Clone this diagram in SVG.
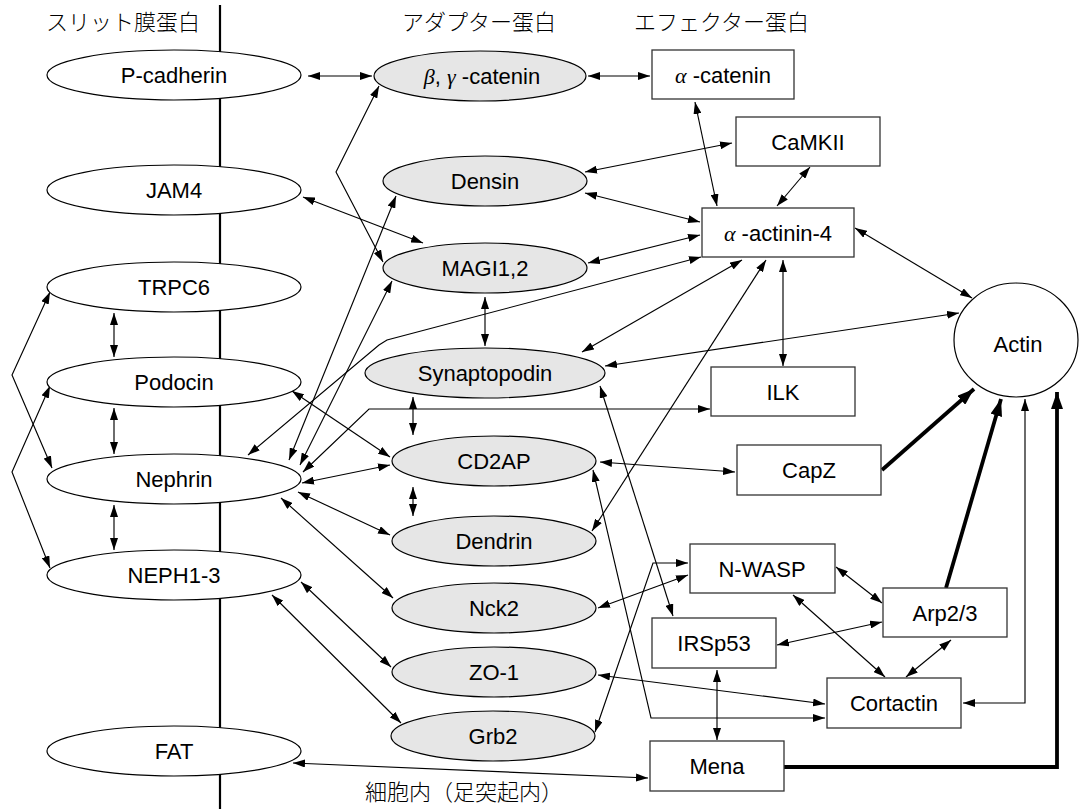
<svg xmlns="http://www.w3.org/2000/svg" width="1079" height="809" viewBox="0 0 1079 809">
<style>
text{font-family:"Liberation Sans",Arial,sans-serif;font-size:22px;fill:#000;text-anchor:middle}
.jp{font-family:"Noto Sans CJK JP","Noto Sans CJK SC",sans-serif;font-size:22px;font-weight:300;text-anchor:start}
.g{font-family:"Liberation Serif","DejaVu Serif",serif;font-style:italic}
.we{fill:#fff;stroke:#000;stroke-width:1.2}
.ge{fill:#e6e6e6;stroke:#000;stroke-width:1.2}
.bx{fill:#fff;stroke:#333;stroke-width:1.3}
.c{fill:none;stroke:#000;stroke-width:1.15;marker-start:url(#ah);marker-end:url(#ah)}
.t{fill:none;stroke:#000;stroke-width:3.8;marker-end:url(#ahb)}
</style>
<defs>
<marker id="ah" viewBox="0 0 12 8" refX="12" refY="4" markerWidth="12" markerHeight="8" markerUnits="userSpaceOnUse" orient="auto-start-reverse"><path d="M0,0 L12,4 L0,8 z" fill="#000"/></marker>
<marker id="ahb" viewBox="0 0 17 12" refX="17" refY="6" markerWidth="17" markerHeight="12" markerUnits="userSpaceOnUse" orient="auto"><path d="M0,0 L17,6 L0,12 z" fill="#000"/></marker>
</defs>
<rect width="1079" height="809" fill="#fff"/>
<line x1="220" y1="5" x2="220" y2="809" stroke="#000" stroke-width="2.2"/>
<g id="headers">
<text class="jp" x="46" y="30">スリット膜蛋白</text>
<text class="jp" x="402" y="30">アダプター蛋白</text>
<text class="jp" x="634" y="30">エフェクター蛋白</text>
<text class="jp" x="365" y="800">細胞内（足突起内）</text>
</g>
<g id="connectors">
<path class="c" d="M308,76 L372,76"/>
<path class="c" d="M588,76 L650,76"/>
<path class="c" d="M379,86 L336,172 L383,262"/>
<path class="c" d="M303,197 L423,243"/>
<path class="c" d="M695,102 L717,206"/>
<path class="c" d="M585,172 L732,143"/>
<path class="c" d="M810,167 L777,206"/>
<path class="c" d="M585,193 L700,222"/>
<path class="c" d="M588,263 L700,235"/>
<path class="c" d="M248,455 L379,345 L387,340 L701,257"/>
<path class="c" d="M742,260 L582,352"/>
<path class="c" d="M766,260 L592,531"/>
<path class="c" d="M783,260 L783,366"/>
<path class="c" d="M855,228 L972,298"/>
<path class="c" d="M605,366 L959,313"/>
<path class="c" d="M396,196 L289,460"/>
<path class="c" d="M392,281 L300,465"/>
<path class="c" d="M485,297 L485,346"/>
<path class="c" d="M413,397 L413,435"/>
<path class="c" d="M413,487 L413,516"/>
<path class="c" d="M303,472 L369,409 L710,409"/>
<path class="c" d="M292,391 L390,457"/>
<path class="c" d="M302,483 L390,465"/>
<path class="c" d="M298,492 L390,535"/>
<path class="c" d="M281,498 L393,598"/>
<path class="c" d="M301,582 L391,667"/>
<path class="c" d="M272,595 L401,723"/>
<path class="c" d="M293,763 L648,778"/>
<path class="c" d="M114,313 L114,357"/>
<path class="c" d="M114,408 L114,454"/>
<path class="c" d="M114,505 L114,550"/>
<path class="c" d="M50,292 L12,375 L52,468"/>
<path class="c" d="M50,386 L12,472 L50,568"/>
<path class="c" d="M600,462 L735,472"/>
<path class="c" d="M600,386 L673,616"/>
<path class="c" d="M593,470 L651,718 L825,718"/>
<path class="c" d="M595,732 L653,563 L688,563"/>
<path class="c" d="M598,608 L688,575"/>
<path class="c" d="M598,675 L825,704"/>
<path class="c" d="M717,670 L717,740"/>
<path class="c" d="M777,645 L882,622"/>
<path class="c" d="M836,567 L882,603"/>
<path class="c" d="M793,595 L885,677"/>
<path class="c" d="M951,640 L906,677"/>
<path class="c" d="M1025,399 L1025,703 L963,703"/>
<path class="t" d="M882,470 L974,389"/>
<path class="t" d="M946,588 L1001,399"/>
<path class="t" d="M784,767 L1057,767 L1057,392"/>
</g>
<g id="n-pcadherin"><ellipse class="we" cx="174" cy="75" rx="127" ry="25"/><text x="174" y="83">P-cadherin</text></g>
<g id="n-jam4"><ellipse class="we" cx="174" cy="190" rx="127" ry="25"/><text x="174" y="198">JAM4</text></g>
<g id="n-trpc6"><ellipse class="we" cx="174" cy="287" rx="127" ry="25"/><text x="174" y="295">TRPC6</text></g>
<g id="n-podocin"><ellipse class="we" cx="174" cy="382" rx="127" ry="25"/><text x="174" y="390">Podocin</text></g>
<g id="n-nephrin"><ellipse class="we" cx="174" cy="479" rx="127" ry="25"/><text x="174" y="487">Nephrin</text></g>
<g id="n-neph"><ellipse class="we" cx="174" cy="575" rx="127" ry="25"/><text x="174" y="583">NEPH1-3</text></g>
<g id="n-fat"><ellipse class="we" cx="174" cy="751" rx="127" ry="25"/><text x="174" y="759">FAT</text></g>
<g id="n-bgcatenin"><ellipse class="ge" cx="480" cy="76" rx="106" ry="25"/><text x="482" y="84"><tspan class="g">β</tspan>, <tspan class="g">γ</tspan> -catenin</text></g>
<g id="n-densin"><ellipse class="ge" cx="485" cy="181" rx="102" ry="25"/><text x="485" y="189">Densin</text></g>
<g id="n-magi"><ellipse class="ge" cx="485" cy="268" rx="102" ry="25"/><text x="485" y="276">MAGI1,2</text></g>
<g id="n-synaptopodin"><ellipse class="ge" cx="485" cy="373" rx="120" ry="25"/><text x="485" y="381">Synaptopodin</text></g>
<g id="n-cd2ap"><ellipse class="ge" cx="494" cy="461" rx="102" ry="25"/><text x="494" y="469">CD2AP</text></g>
<g id="n-dendrin"><ellipse class="ge" cx="494" cy="541" rx="102" ry="25"/><text x="494" y="549">Dendrin</text></g>
<g id="n-nck2"><ellipse class="ge" cx="494" cy="608" rx="102" ry="25"/><text x="494" y="616">Nck2</text></g>
<g id="n-zo1"><ellipse class="ge" cx="494" cy="672" rx="102" ry="25"/><text x="494" y="680">ZO-1</text></g>
<g id="n-grb2"><ellipse class="ge" cx="493" cy="736" rx="102" ry="25"/><text x="493" y="744">Grb2</text></g>
<g id="n-acatenin"><rect class="bx" x="652" y="50" width="142" height="49"/><text x="723" y="83"><tspan class="g">α</tspan> -catenin</text></g>
<g id="n-camkii"><rect class="bx" x="736" y="117" width="144" height="49"/><text x="808" y="150">CaMKII</text></g>
<g id="n-aactinin"><rect class="bx" x="702" y="208" width="152" height="49"/><text x="778" y="241"><tspan class="g">α</tspan> -actinin-4</text></g>
<g id="n-ilk"><rect class="bx" x="711" y="367" width="144" height="49"/><text x="783" y="400">ILK</text></g>
<g id="n-capz"><rect class="bx" x="737" y="445" width="144" height="50"/><text x="809" y="478">CapZ</text></g>
<g id="n-nwasp"><rect class="bx" x="690" y="544" width="145" height="49"/><text x="762" y="577">N-WASP</text></g>
<g id="n-irsp53"><rect class="bx" x="652" y="618" width="124" height="50"/><text x="714" y="651">IRSp53</text></g>
<g id="n-arp23"><rect class="bx" x="883" y="588" width="124" height="49"/><text x="945" y="621">Arp2/3</text></g>
<g id="n-cortactin"><rect class="bx" x="827" y="678" width="134" height="50"/><text x="894" y="711">Cortactin</text></g>
<g id="n-mena"><rect class="bx" x="650" y="741" width="134" height="50"/><text x="717" y="774">Mena</text></g>
<g id="n-actin"><ellipse class="we" cx="1016" cy="340" rx="62" ry="57"/><text x="1018" y="352">Actin</text></g>
</svg>
